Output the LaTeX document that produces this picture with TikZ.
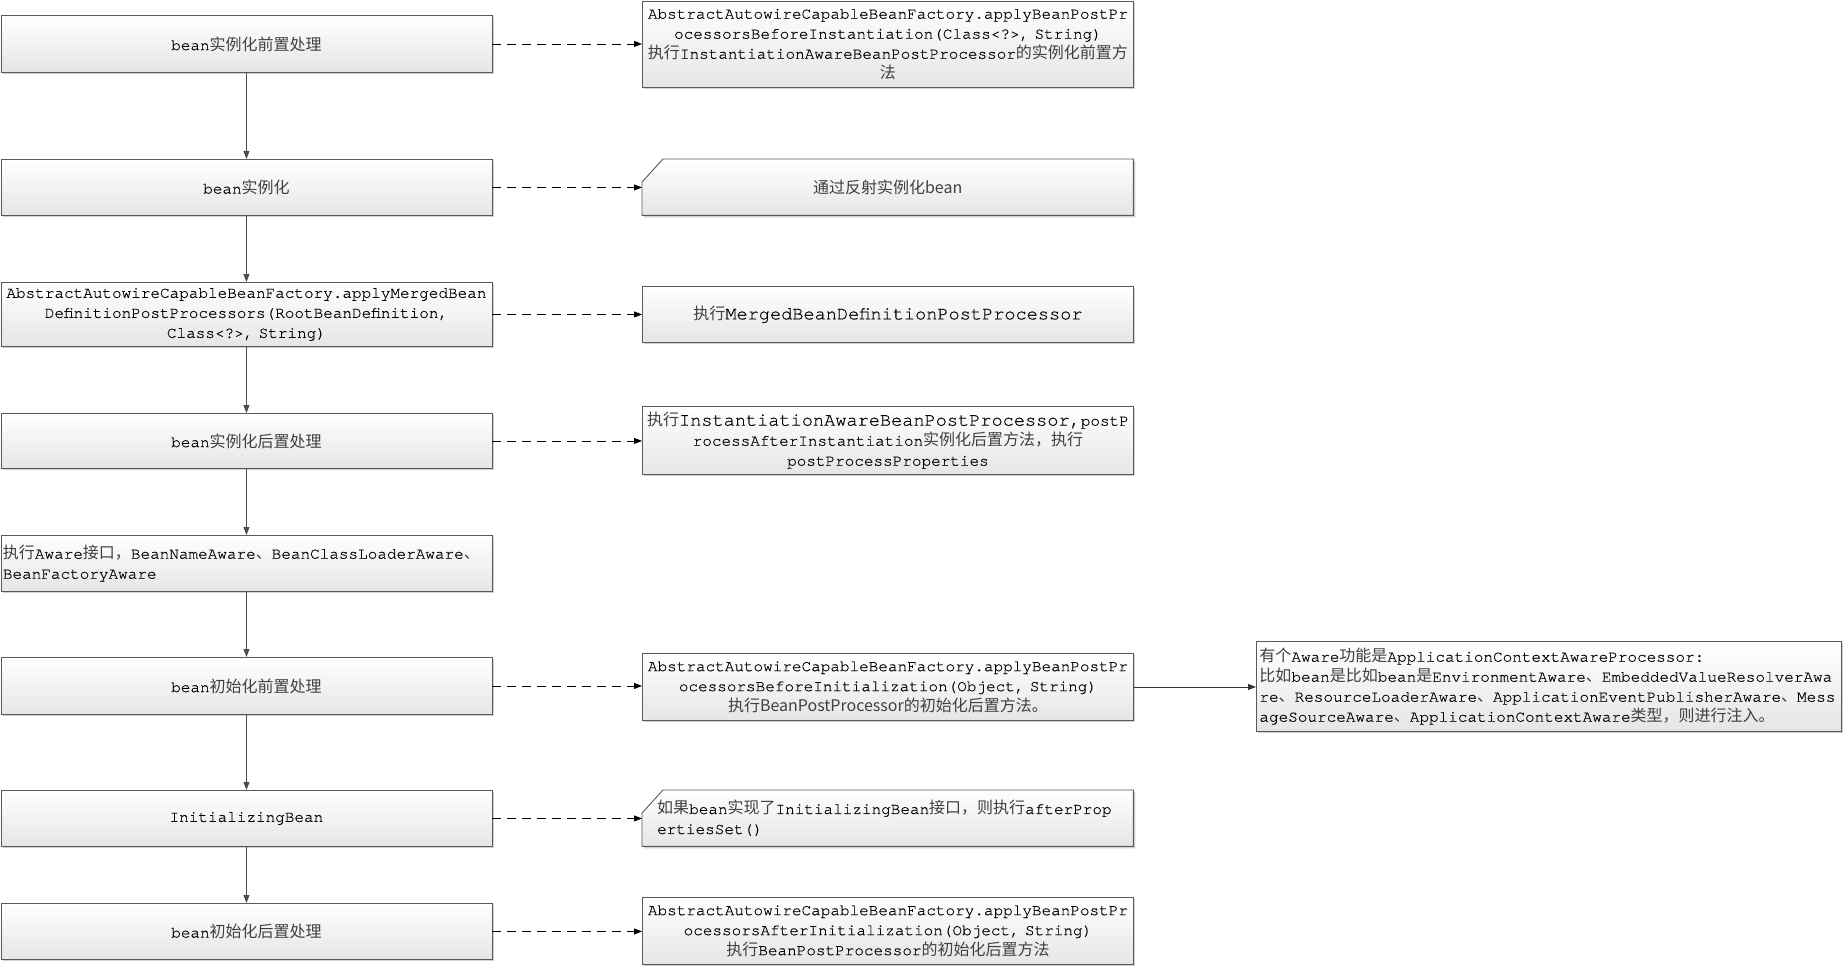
\documentclass[tikz,border=0pt]{standalone}
\usepackage{fontspec}
\setmainfont{TeX Gyre Cursor}[FakeBold=0.3]
\newfontfamily\cjk{Noto Sans CJK SC}
\usetikzlibrary{arrows.meta,shadows,backgrounds}
\newcommand\zh[1]{{\cjk\color{black!75}#1}}
\newcommand\bigtt[1]{{\fontsize{18.6}{20}\selectfont #1}}
\newcommand\cutpath[1]{([yshift=-23pt]#1.north west) -- ([xshift=21pt]#1.north west) -- (#1.north east) -- (#1.south east) -- (#1.south west) -- cycle}
\tikzset{
  txt/.style={rectangle, anchor=north west, inner xsep=2pt, inner ysep=0pt,
    align=center, font=\fontsize{16}{20}\selectfont, text=black},
  box/.style={txt, draw=black!65, line width=0.9pt, top color=white, bottom color=black!10,
    drop shadow={shadow xshift=2pt, shadow yshift=-2pt, fill=black!18, opacity=1}},
  lbox/.style={box, text width=487pt},
  rbox/.style={box, text width=487pt},
  cutbox/.style={txt, text width=487pt},
  flow/.style={-{Triangle[length=8pt,width=6pt]}, draw=black!70, line width=0.8pt},
  dflow/.style={-{Triangle[length=8pt,width=6pt]}, draw=black, line width=0.8pt, dash pattern=on 9pt off 6pt},
  sflow/.style={-{Triangle[length=8pt,width=6pt]}, draw=black!80, line width=0.8pt},
}
\begin{document}
\begin{tikzpicture}[x=1pt,y=-1pt]
\begin{pgfonlayer}{background}
\fill[white] (0,0) rectangle (1843,968);
\end{pgfonlayer}
\useasboundingbox (0,0) rectangle (1843,968);

% left column
\node[lbox, minimum height=57pt] (L1) at (0.5,15) {bean\zh{实例化前置处理}};
\node[lbox, minimum height=56pt] (L2) at (0.5,159) {bean\zh{实例化}};
\node[lbox, minimum height=64pt] (L3) at (0.5,282) {AbstractAutowireCapableBeanFactory.applyMergedBean\\DefinitionPostProcessors(RootBeanDefinition,\\Class<?>, String)};
\node[lbox, minimum height=55pt] (L4) at (0.5,413) {bean\zh{实例化后置处理}};
\node[lbox, minimum height=56pt, align=left] (L5) at (0.5,535) {\zh{执行}Aware\zh{接口，}BeanNameAware\zh{、}BeanClassLoaderAware\zh{、}\\BeanFactoryAware};
\node[lbox, minimum height=57pt] (L6) at (0.5,657) {bean\zh{初始化前置处理}};
\node[lbox, minimum height=56pt] (L7) at (0.5,790) {InitializingBean};
\node[lbox, minimum height=56pt] (L8) at (0.5,903) {bean\zh{初始化后置处理}};

% right column
\node[rbox, minimum height=86pt] (R1) at (642,1) {AbstractAutowireCapableBeanFactory.applyBeanPostPr\\ocessorsBeforeInstantiation(Class<?>, String)\\\zh{执行}InstantiationAwareBeanPostProcessor\zh{的实例化前置方}\\\zh{法}};
\node[cutbox, minimum height=56pt] (R2) at (642,159) {\zh{通过反射实例化bean}};
\node[rbox, minimum height=56pt] (R3) at (642,286) {\zh{执行}\bigtt{MergedBeanDefinitionPostProcessor}};
\node[rbox, minimum height=68pt] (R4) at (642,406) {\zh{执行}\bigtt{InstantiationAwareBeanPostProcessor,}postP\\rocessAfterInstantiation\zh{实例化后置方法，执行}\\postProcessProperties};
\node[rbox, minimum height=67pt] (R6) at (642,653) {AbstractAutowireCapableBeanFactory.applyBeanPostPr\\ocessorsBeforeInitialization(Object, String)\\\zh{执行BeanPostProcessor的初始化后置方法。}};
\node[cutbox, minimum height=56pt, inner xsep=15pt, text width=461pt, align=left] (R7) at (642,790) {\zh{如果}bean\zh{实现了}InitializingBean\zh{接口，则执行}afterProp\\ertiesSet()};
\node[rbox, minimum height=67pt] (R8) at (642,897) {AbstractAutowireCapableBeanFactory.applyBeanPostPr\\ocessorsAfterInitialization(Object, String)\\\zh{执行}BeanPostProcessor\zh{的初始化后置方法}};

% far right
\node[box, minimum height=90pt, inner xsep=3pt, text width=579pt, align=left] (F) at (1256,641) {\zh{有个}Aware\zh{功能是}ApplicationContextAwareProcessor:\\\zh{比如}bean\zh{是比如}bean\zh{是}EnvironmentAware\zh{、}EmbeddedValueResolverAwa\\re\zh{、}ResourceLoaderAware\zh{、}ApplicationEventPublisherAware\zh{、}Mess\\ageSourceAware\zh{、}ApplicationContextAware\zh{类型，则进行注入。}};

% cut-corner shapes
\begin{pgfonlayer}{background}
\foreach \n in {R2,R7}{
  \fill[black!18, transform canvas={shift={(2pt,-2pt)}}] \cutpath{\n};
  \shadedraw[draw=black!65, line width=0.9pt, top color=white, bottom color=black!10] \cutpath{\n};
}
\end{pgfonlayer}

% vertical flow
\draw[flow] (L1.south) -- (L2.north);
\draw[flow] (L2.south) -- (L3.north);
\draw[flow] (L3.south) -- (L4.north);
\draw[flow] (L4.south) -- (L5.north);
\draw[flow] (L5.south) -- (L6.north);
\draw[flow] (L6.south) -- (L7.north);
\draw[flow] (L7.south) -- (L8.north);

% dashed
\draw[dflow] (L1.east) -- (L1.east -| R1.west);
\draw[dflow] (L2.east) -- (L2.east -| R2.west);
\draw[dflow] (L3.east) -- (L3.east -| R3.west);
\draw[dflow] (L4.east) -- (L4.east -| R4.west);
\draw[dflow] (L6.east) -- (L6.east -| R6.west);
\draw[dflow] (L7.east) -- (L7.east -| R7.west);
\draw[dflow] (L8.east) -- (L8.east -| R8.west);

\draw[sflow] (R6.east) -- (R6.east -| F.west);
\end{tikzpicture}
\end{document}
